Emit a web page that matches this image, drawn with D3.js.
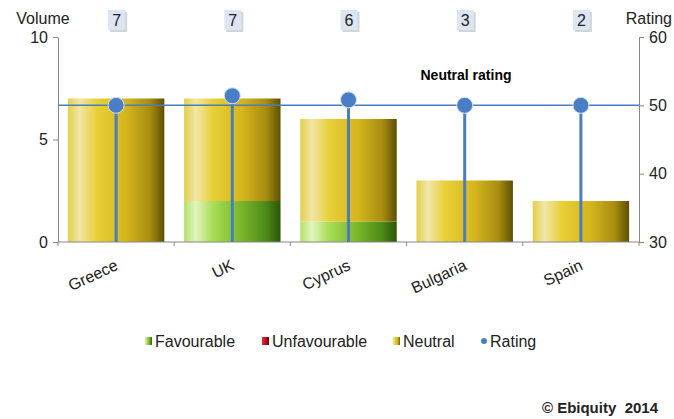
<!DOCTYPE html>
<html>
<head>
<meta charset="utf-8">
<script src="https://cdn.jsdelivr.net/npm/d3@7"></script>
<style>
  body { margin: 0; background: #fff; }
  svg { font-family: Arial, "Liberation Sans", sans-serif; }
  .axis path, .axis line { stroke: #888; }
  .axis text { font-size: 16px; fill: #222; }
</style>
</head>
<body>
<svg id="chart" width="674" height="419"></svg>
<script>
// chart data
var countries = ["Greece", "UK", "Cyprus", "Bulgaria", "Spain"];
var favourable = [0, 2, 1, 0, 0];
var unfavourable = [0, 0, 0, 0, 0];
var neutral = [7, 5, 5, 3, 2];
var ratings = [50, 51.4, 50.8, 50, 50];
var neutralRating = 50;
var volumeTicks = [0, 5, 10];
var ratingTicks = [30, 40, 50, 60];

var svg = d3.select("#chart");
var plotLeft = 58, plotRight = 639, plotTop = 37, plotBottom = 242;

var x = d3.scaleBand().domain(countries).range([plotLeft, plotRight]).paddingInner(0.17).paddingOuter(0.085);
var xEdge = d3.scaleBand().domain(countries).range([plotLeft, plotRight]);
var yVol = d3.scaleLinear().domain([0, 10]).range([plotBottom, plotTop]);
var yRat = d3.scaleLinear().domain([30, 60]).range([plotBottom, plotTop]);

// gradients for the cylinder look
var defs = svg.append("defs");
function makeGrad(id, stops) {
    var g = defs.append("linearGradient").attr("id", id).attr("x1", "0").attr("x2", "1").attr("y1", "0").attr("y2", "0");
    stops.forEach(function(s) {
        g.append("stop").attr("offset", s[0]).attr("stop-color", s[1]);
    });
}
makeGrad("gNeutral", [[0, "#e3cf4a"], [0.12, "#f1e6a8"], [0.3, "#e8d037"], [0.6, "#d6b51d"], [0.85, "#a88d10"], [1, "#5d4f05"]]);
makeGrad("gFav", [[0, "#b3e06a"], [0.12, "#e2f5bd"], [0.3, "#a8dc55"], [0.6, "#78b52a"], [0.85, "#4d8a18"], [1, "#2b5508"]]);
makeGrad("gUnfav", [[0, "#e03040"], [0.5, "#c01020"], [1, "#700010"]]);

// stacked bars
var stackData = countries.map(function(c, i) {
    return { country: c, fav: favourable[i], unfav: unfavourable[i], neutral: neutral[i] };
});
var stack = d3.stack().keys(["fav", "unfav", "neutral"])(stackData);
var fills = { fav: "url(#gFav)", unfav: "url(#gUnfav)", neutral: "url(#gNeutral)" };

stack.forEach(function(layer) {
    svg.append("g").selectAll("rect")
        .data(layer)
        .enter()
        .append("rect")
        .attr("x", function(d) { return x(d.data.country); })
        .attr("width", x.bandwidth())
        .attr("y", function(d) { return yVol(d[1]); })
        .attr("height", function(d) { return yVol(d[0]) - yVol(d[1]); })
        .attr("fill", fills[layer.key]);
});

// axes
svg.append("g").attr("class", "axis")
    .attr("transform", "translate(" + plotLeft + ",0)")
    .call(d3.axisLeft(yVol).tickValues(volumeTicks).tickSize(5).tickSizeOuter(0).tickPadding(5));

svg.append("g").attr("class", "axis")
    .attr("transform", "translate(" + plotRight + ",0)")
    .call(d3.axisRight(yRat).tickValues(ratingTicks).tickSize(5).tickSizeOuter(0).tickPadding(5));

var xAxis = svg.append("g").attr("class", "axis")
    .attr("transform", "translate(0," + plotBottom + ")");
xAxis.append("line").attr("x1", plotLeft).attr("x2", plotRight).attr("stroke", "#888");
xAxis.selectAll("line.tk")
    .data(countries)
    .enter()
    .append("line")
    .attr("class", "tk")
    .attr("x1", function(d) { return xEdge(d); })
    .attr("x2", function(d) { return xEdge(d); })
    .attr("y2", 4)
    .attr("stroke", "#888");
xAxis.append("line").attr("x1", plotRight).attr("x2", plotRight).attr("y2", 4).attr("stroke", "#888");

xAxis.selectAll("text")
    .data(countries)
    .enter()
    .append("text")
    .attr("transform", function(d) {
        return "translate(" + (x(d) + x.bandwidth() / 2 + 3) + ",27) rotate(-25)";
    })
    .attr("text-anchor", "end")
    .style("font-size", "16px")
    .attr("fill", "#222")
    .text(function(d) { return d; });

// neutral rating line
svg.append("line")
    .attr("x1", plotLeft).attr("x2", plotRight)
    .attr("y1", yRat(neutralRating)).attr("y2", yRat(neutralRating))
    .attr("stroke", "#4a7ebb").attr("stroke-width", 1.5);

svg.append("text")
    .attr("x", 466).attr("y", 80)
    .attr("text-anchor", "middle")
    .style("font-size", "14px").style("font-weight", "bold")
    .text("Neutral rating");

// rating stems and dots
var ratingData = countries.map(function(c, i) { return { country: c, r: ratings[i] }; });
svg.append("g").selectAll("line")
    .data(ratingData)
    .enter()
    .append("line")
    .attr("x1", function(d) { return x(d.country) + x.bandwidth() / 2; })
    .attr("x2", function(d) { return x(d.country) + x.bandwidth() / 2; })
    .attr("y1", function(d) { return yRat(d.r); })
    .attr("y2", plotBottom)
    .attr("stroke", "#4a7ebb").attr("stroke-width", 3);

svg.append("g").selectAll("circle")
    .data(ratingData)
    .enter()
    .append("circle")
    .attr("cx", function(d) { return x(d.country) + x.bandwidth() / 2; })
    .attr("cy", function(d) { return yRat(d.r); })
    .attr("r", 8)
    .attr("fill", "#4a7ec4")
    .attr("stroke", "#d8e4f2").attr("stroke-width", 1);

// total volume boxes at top
var totals = countries.map(function(c, i) { return favourable[i] + unfavourable[i] + neutral[i]; });
var boxes = svg.append("g").selectAll("g")
    .data(totals)
    .enter()
    .append("g")
    .attr("transform", function(d, i) { return "translate(" + (x(countries[i]) + x.bandwidth() / 2) + ",20)"; });
boxes.append("rect").attr("x", -6).attr("y", -8).attr("width", 17).attr("height", 20).attr("fill", "#b8b8b8").attr("opacity", 0.6);
boxes.append("rect").attr("x", -8).attr("y", -10).attr("width", 17).attr("height", 20).attr("fill", "#dce6f2");
boxes.append("text")
    .attr("x", 0.5).attr("y", 6)
    .attr("text-anchor", "middle")
    .style("font-size", "16px").attr("fill", "#222")
    .text(function(d) { return d; });

// axis titles
svg.append("text").attr("x", 43).attr("y", 24).attr("text-anchor", "middle").style("font-size", "16px").attr("fill", "#222").text("Volume");
svg.append("text").attr("x", 672).attr("y", 24).attr("text-anchor", "end").style("font-size", "16px").attr("fill", "#222").text("Rating");

// legend
var legendItems = [
    { name: "Favourable", fill: "url(#gFav)", x: 145 },
    { name: "Unfavourable", fill: "url(#gUnfav)", x: 262 },
    { name: "Neutral", fill: "url(#gNeutral)", x: 393 },
    { name: "Rating", fill: "#4a7ec4", x: 481, dot: true }
];
var legend = svg.append("g").selectAll("g")
    .data(legendItems)
    .enter()
    .append("g")
    .attr("transform", function(d) { return "translate(" + d.x + ",341)"; });
legend.each(function(d) {
    var g = d3.select(this);
    if (d.dot) {
        g.append("circle").attr("cx", 3).attr("cy", 0).attr("r", 3).attr("fill", d.fill);
    } else {
        g.append("rect").attr("x", 0).attr("y", -4).attr("width", 7).attr("height", 8).attr("fill", d.fill);
    }
    g.append("text").attr("x", d.dot ? 9 : 10).attr("y", 6).style("font-size", "16px").attr("fill", "#222").text(d.name);
});

// footer
svg.append("text").attr("x", 658).attr("y", 413).attr("text-anchor", "end")
    .style("font-size", "15px").style("font-weight", "bold").attr("fill", "#222")
    .attr("xml:space", "preserve")
    .text("\u00a9 Ebiquity  2014");
</script>
</body>
</html>
